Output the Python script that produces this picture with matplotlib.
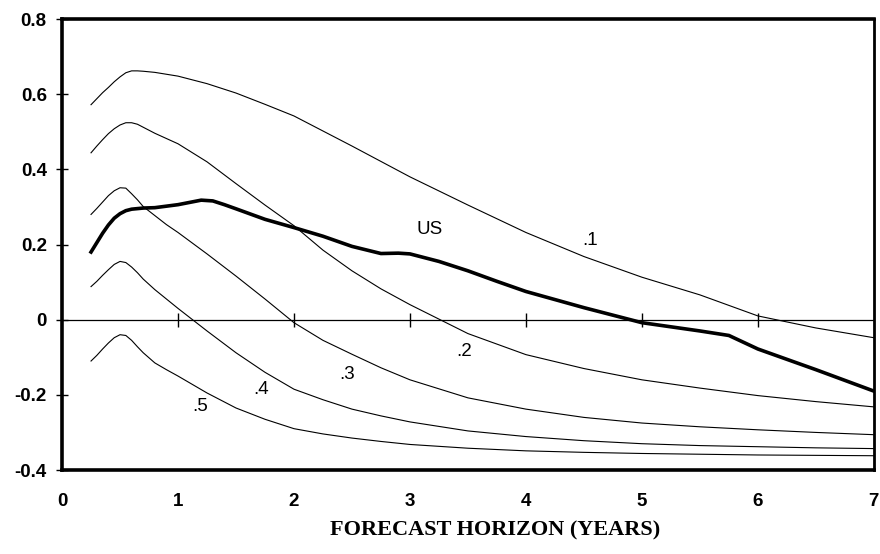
import matplotlib
matplotlib.use("Agg")
import matplotlib.pyplot as plt

# horizon grid (years) shared by the percentile curves
x_grid = [0.25, 0.3, 0.35, 0.4, 0.45, 0.5, 0.55, 0.6, 0.65, 0.7, 0.8, 0.9, 1.0,
          1.25, 1.5, 1.75, 2.0, 2.25, 2.5, 2.75, 3.0, 3.5, 4.0, 4.5, 5.0,
          5.5, 6.0, 6.5, 7.0]

p1 = [0.572, 0.588, 0.604, 0.618, 0.633, 0.646, 0.657, 0.662, 0.662, 0.661,
      0.658, 0.653, 0.648, 0.628, 0.603, 0.573, 0.542, 0.502, 0.462, 0.421,
      0.380, 0.305, 0.232, 0.168, 0.113, 0.066, 0.010, -0.022, -0.048]
p2 = [0.444, 0.462, 0.479, 0.495, 0.508, 0.518, 0.524, 0.524, 0.520, 0.512,
      0.496, 0.482, 0.468, 0.420, 0.362, 0.305, 0.250, 0.185, 0.130, 0.082,
      0.040, -0.037, -0.093, -0.130, -0.160, -0.182, -0.202, -0.218, -0.232]
p3 = [0.280, 0.296, 0.313, 0.330, 0.343, 0.351, 0.350, 0.335, 0.319, 0.301,
      0.277, 0.253, 0.232, 0.175, 0.116, 0.055, -0.008, -0.055, -0.092, -0.128,
      -0.160, -0.208, -0.238, -0.260, -0.275, -0.285, -0.293, -0.300, -0.306]
p4 = [0.088, 0.102, 0.118, 0.133, 0.147, 0.155, 0.152, 0.140, 0.125, 0.108,
      0.080, 0.055, 0.030, -0.030, -0.088, -0.140, -0.185, -0.213, -0.238, -0.256,
      -0.272, -0.296, -0.311, -0.322, -0.330, -0.335, -0.338, -0.341, -0.343]
p5 = [-0.110, -0.095, -0.078, -0.062, -0.048, -0.040, -0.042, -0.055, -0.072, -0.088,
      -0.115, -0.133, -0.150, -0.195, -0.235, -0.265, -0.290, -0.304, -0.315, -0.324,
      -0.332, -0.342, -0.349, -0.353, -0.356, -0.358, -0.360, -0.361, -0.362]

us_x = [0.25, 0.3, 0.35, 0.4, 0.45, 0.5, 0.55, 0.6, 0.7, 0.8, 0.9, 1.0, 1.1, 1.2, 1.3,
        1.4, 1.5, 1.75, 2.0, 2.25, 2.5, 2.75, 2.9, 3.0, 3.25, 3.5, 3.75, 4.0, 4.5,
        5.0, 5.5, 5.75, 6.0, 6.5, 7.0]
us_y = [0.180, 0.205, 0.230, 0.252, 0.270, 0.282, 0.290, 0.294, 0.297, 0.298, 0.302,
        0.306, 0.312, 0.318, 0.316, 0.306, 0.295, 0.267, 0.245, 0.222, 0.195, 0.176,
        0.177, 0.175, 0.155, 0.130, 0.102, 0.075, 0.032, -0.008, -0.030, -0.042,
        -0.078, -0.133, -0.190]

curve_labels = [".1", ".2", ".3", ".4", ".5"]
label_pos = [(4.55, 0.21), (3.47, -0.085), (2.46, -0.145), (1.72, -0.185), (1.19, -0.23)]
us_label_pos = (3.17, 0.24)

x_ticks = [0, 1, 2, 3, 4, 5, 6, 7]
y_ticks = [-0.4, -0.2, 0, 0.2, 0.4, 0.6, 0.8]
y_ticklabels = ["-0.4", "-0.2", "0", "0.2", "0.4", "0.6", "0.8"]

plt.rcParams.update({
    "font.family": "Liberation Sans",
    "font.size": 13.5,
})

fig = plt.figure(figsize=(8.8, 5.54), dpi=100)
ax = fig.add_axes([0.0705, 0.1516, 0.9225, 0.8141])

for ys in (p1, p2, p3, p4, p5):
    ax.plot(x_grid, ys, color="black", lw=0.8)
ax.plot(us_x, us_y, color="black", lw=2.6, solid_joinstyle="round")

# zero line with year ticks on it
ax.axhline(0, color="black", lw=0.9)
ax.plot(x_ticks[1:-1], [0] * (len(x_ticks) - 2), ls="none", marker="|",
        markersize=10, markeredgewidth=1.0, color="black")

for txt, (tx, ty) in zip(curve_labels, label_pos):
    ax.text(tx, ty, txt, ha="center", va="center", fontsize=13.5)
ax.text(us_label_pos[0], us_label_pos[1], "US", ha="center", va="center", fontsize=13.5)

ax.set_xlim(0, 7)
ax.set_ylim(-0.4, 0.8)
ax.set_xticks(x_ticks)
ax.set_xticklabels([str(t) for t in x_ticks], fontweight="bold")
ax.set_yticks(y_ticks)
ax.set_yticklabels(y_ticklabels, fontweight="bold")
ax.tick_params(axis="x", length=0, pad=16.5)
ax.tick_params(axis="y", direction="inout", length=8, width=1, pad=7)

for side in ("left", "top", "bottom"):
    ax.spines[side].set_linewidth(2.6)
ax.spines["right"].set_linewidth(2.0)

ax.set_xlabel("FORECAST HORIZON (YEARS)", fontfamily="Liberation Serif",
              fontweight="bold", fontsize=16)
ax.xaxis.set_label_coords(0.534, -0.113)

fig.savefig("out.png", dpi=100)
